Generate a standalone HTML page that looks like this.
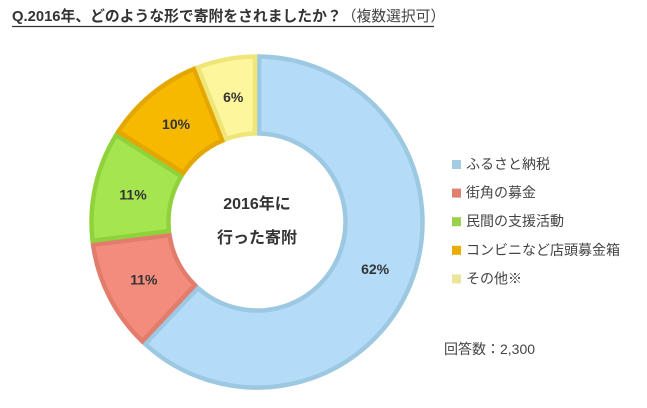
<!DOCTYPE html>
<html><head><meta charset="utf-8"><style>
body{margin:0;background:#fff;width:647px;height:403px;overflow:hidden;font-family:"Liberation Sans","Noto Sans CJK JP",sans-serif}
</style></head><body>
<svg width="647" height="403" viewBox="0 0 647 403" id="chart">
<text x="12" y="21" font-size="14.8" font-weight="bold" fill="#333">Q.2016年、どのような形で寄附をされましたか？<tspan font-weight="normal" fill="#444">（複数選択可）</tspan></text>
<line x1="12" y1="26.5" x2="434" y2="26.5" stroke="#333" stroke-width="1.3"/>
<g id="slices"></g>
<g id="labels"></g>
<text x="257" y="209" text-anchor="middle" font-size="16" font-weight="bold" fill="#333">2016年に</text>
<text x="257" y="243" text-anchor="middle" font-size="16" font-weight="bold" fill="#333">行った寄附</text>
<g id="legend"></g>
<text x="444" y="354" font-size="14" fill="#444">回答数：2,300</text>
</svg>
<script>
const categories=["ふるさと納税","街角の募金","民間の支援活動","コンビニなど店頭募金箱","その他※"];
const values=[62,11,11,10,6];
const fills=["#b4dcf8","#f38c7c","#a5e54f","#f7b900","#fdf69c"];
const strokes=["#9cc8e2","#e27c6c","#90d23c","#e4a600","#efe67a"];
const legendColors=["#a4cbe4","#e08070","#99d14a","#e9ac00","#eae79a"];
const cx=257,cy=222,R=168,r=86;
const ns="http://www.w3.org/2000/svg";
const total=values.reduce((a,b)=>a+b,0);
function pt(rad,a){return [cx+rad*Math.sin(a),cy-rad*Math.cos(a)];}
const gs=document.getElementById('slices'),gl=document.getElementById('labels'),gg=document.getElementById('legend');
let acc=0;
values.forEach((v,i)=>{
  const a0=acc/total*2*Math.PI, a1=(acc+v)/total*2*Math.PI; acc+=v;
  const gap=0.012, R2=R-2.5, r2=r+2.5;
  const b0=a0+gap, b1=a1-gap, ib0=a0+gap*R/r, ib1=a1-gap*R/r;
  const large=(b1-b0)>Math.PI?1:0;
  const p1=pt(R2,b0),p2=pt(R2,b1),p3=pt(r2,ib1),p4=pt(r2,ib0);
  const p=document.createElementNS(ns,'path');
  p.setAttribute('d',`M${p1[0]},${p1[1]}A${R2},${R2} 0 ${large} 1 ${p2[0]},${p2[1]}L${p3[0]},${p3[1]}A${r2},${r2} 0 ${large} 0 ${p4[0]},${p4[1]}Z`);
  p.setAttribute('fill',fills[i]);p.setAttribute('stroke',strokes[i]);p.setAttribute('stroke-width','4.5');
  
  
  gs.appendChild(p);
  const m=pt((R+r)/2,(a0+a1)/2);
  const t=document.createElementNS(ns,'text');
  t.setAttribute('x',m[0]);t.setAttribute('y',m[1]+5);t.setAttribute('text-anchor','middle');
  t.setAttribute('font-size','14');t.setAttribute('font-weight','bold');t.setAttribute('fill','#333');
  t.textContent=v+'%';
  
  
  gl.appendChild(t);
  const y=164+i*28.6;
  const s=document.createElementNS(ns,'rect');
  s.setAttribute('x',452);s.setAttribute('y',y-4);s.setAttribute('width',9);s.setAttribute('height',9);s.setAttribute('fill',legendColors[i]);
  
  
  gg.appendChild(s);
  const lt=document.createElementNS(ns,'text');
  lt.setAttribute('x',466);lt.setAttribute('y',y+5);lt.setAttribute('font-size','14');lt.setAttribute('fill','#444');
  lt.textContent=categories[i];
  
  
  gg.appendChild(lt);
});
</script>
</body></html>
